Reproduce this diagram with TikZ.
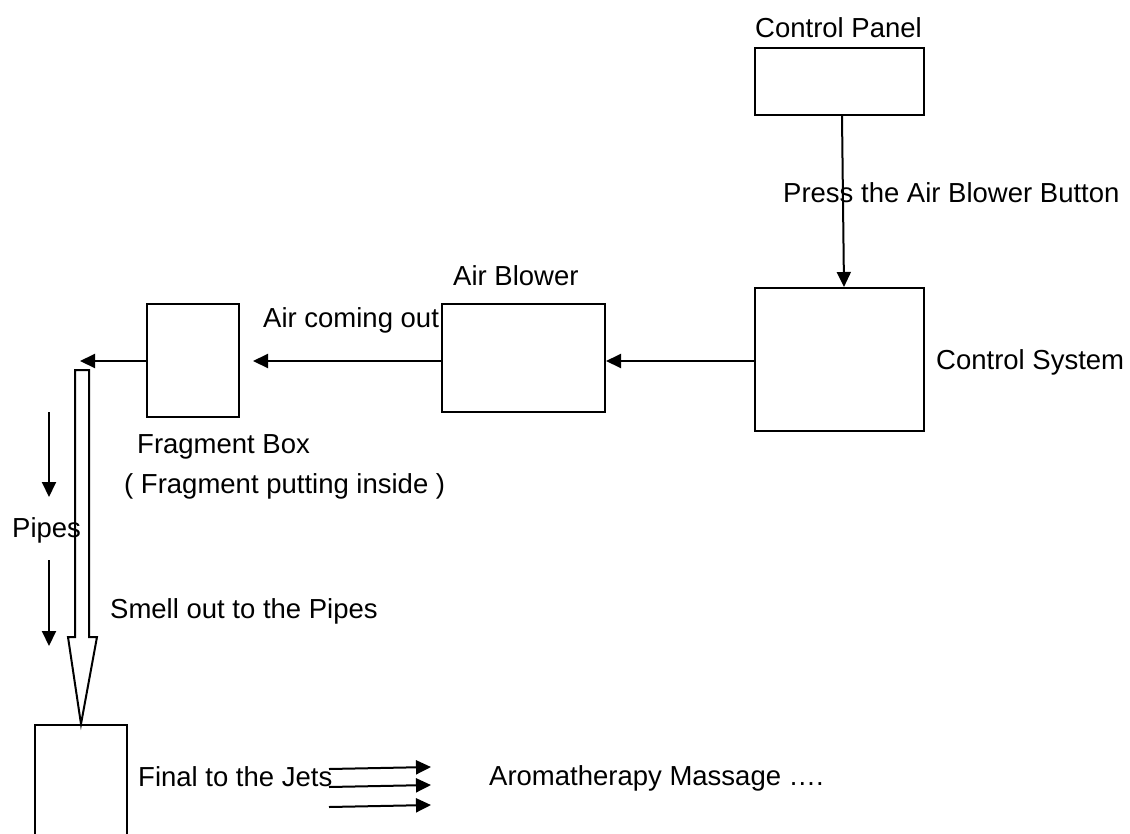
\documentclass[tikz,border=0pt]{standalone}
\usepackage{fontspec}
\setmainfont{Liberation Sans}
\usetikzlibrary{arrows.meta,calc}
\tikzset{
  box/.style={draw, line width=2pt, rectangle, inner sep=0pt, fill=white},
  lbl/.style={inner sep=0pt, anchor=base west, font=\fontsize{27.5}{32}\selectfont},
  flow/.style={line width=2pt, -{Triangle[length=15pt,width=14pt]}},
  pipe/.style={line width=2pt, fill=white, line join=miter}
}
\begin{document}
\begin{tikzpicture}[x=1pt,y=-1pt]
\useasboundingbox (0,0) rectangle (1130,833);
\clip (0,0) rectangle (1130,833);
\fill[white] (0,0) rectangle (1130,833);

% boxes
\node[box, minimum width=169pt, minimum height=67pt] (cp) at (839.5,81.5) {};
\node[box, minimum width=169pt, minimum height=143pt] (cs) at (839.5,359.5) {};
\node[box, minimum width=163pt, minimum height=108pt] (ab) at (523.5,358) {};
\node[box, minimum width=92pt, minimum height=113pt] (fb) at (193,360.5) {};
\node[box, minimum width=92pt, minimum height=130pt] (fin) at (81,790) {};

% coordinates
\coordinate (pipein) at (80,361);
\coordinate (pa1) at (49,412);
\coordinate (pb1) at (49,497);
\coordinate (pa2) at (49,560);
\coordinate (pb2) at (49,646);
\coordinate (j1a) at (329,769);
\coordinate (j1b) at (431,767);
\coordinate (j2a) at (329,787);
\coordinate (j2b) at (431,785);
\coordinate (j3a) at (329,807);
\coordinate (j3b) at (431,805);

% connectors
\draw[flow] ([xshift=2.5pt]cp.south) -- ([xshift=4.5pt]cs.north);
\draw[flow] (cs.west |- 0,361) -- (ab.east |- 0,361);
\draw[flow, shorten >=13pt] (ab.west |- 0,361) -- (fb.east |- 0,361);
\draw[flow] (fb.west |- 0,361) -- (pipein);
\draw[flow] (pa1) -- (pb1);
\draw[flow] (pa2) -- (pb2);
\draw[flow] (j1a) -- (j1b);
\draw[flow] (j2a) -- (j2b);
\draw[flow] (j3a) -- (j3b);

% hollow pipe arrow
\draw[pipe] (75,370) -- (89,370) -- (89,637) -- (97,637) -- (fin.north) -- (68,637) -- (75,637) -- cycle;

% labels
\node[lbl] (tcp) at (755,37) {Control Panel};
\node[lbl] (tpress) at (783,202) {Press the Air Blower Button};
\node[lbl] (tcs) at (936,369) {Control System};
\node[lbl] (tab) at (453,285) {Air Blower};
\node[lbl] (tair) at (263,327) {Air coming out};
\node[lbl] (tfb) at (137,453) {Fragment Box};
\node[lbl] (tfb2) at (124,493) {( Fragment putting inside )};
\node[lbl] (tpipes) at (12,537) {Pipes};
\node[lbl] (tsmell) at (110,618) {Smell out to the Pipes};
\node[lbl] (tjets) at (138,786) {Final to the Jets};
\node[lbl] (taroma) at (489,785) {Aromatherapy Massage ….};
\end{tikzpicture}
\end{document}
